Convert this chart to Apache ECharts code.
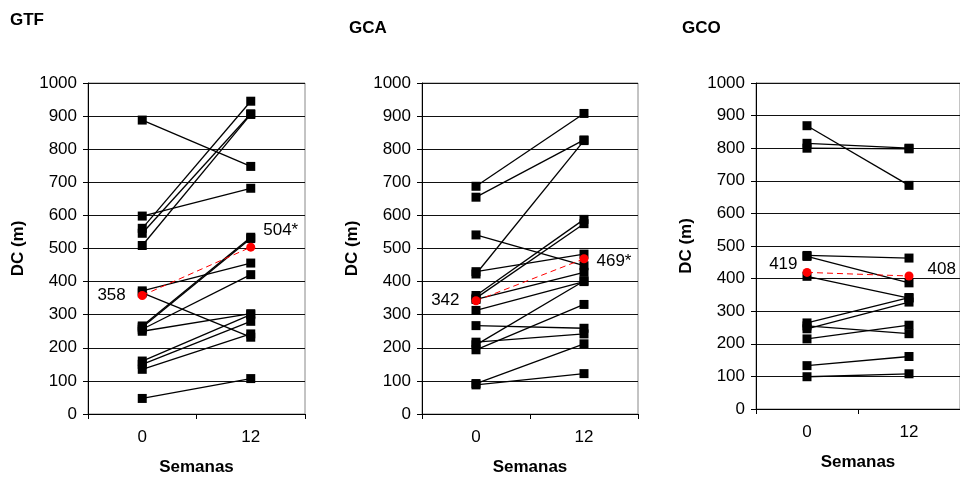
<!DOCTYPE html>
<html>
<head>
<meta charset="utf-8">
<script src="https://cdn.jsdelivr.net/npm/echarts@6/dist/echarts.min.js"></script>
<style>html,body{margin:0;padding:0;background:#fff;}#c{width:960px;height:481px;}</style>
</head>
<body>
<div id="c"></div>
<script>
const categories = ['0', '12'];
const yTicks = [0, 1000, 100];

const panelTitles = ['GTF', 'GCA', 'GCO'];
const yAxisName = 'DC (m)';
const xAxisName = 'Semanas';

// GTF subjects (week 0, week 12)
const gtfWeek0  = [888, 598, 561, 546, 509, 372, 366, 266, 262, 256, 250, 160, 150, 135, 47];
const gtfWeek12 = [748, 682, 945, 907, 905, 456, 232, 534, 530, 421, 303, 300, 280, 242, 107];
const gtfMean = [358, 504];
const gtfMeanLabels = ['358', '504*'];

// GCA subjects
const gcaWeek0  = [688, 655, 541, 430, 423, 358, 350, 346, 313, 267, 217, 209, 194, 92, 88];
const gcaWeek12 = [908, 828, 448, 483, 826, 588, 575, 428, 400, 259, 242, 402, 331, 212, 122];
const gcaMean = [342, 469];
const gcaMeanLabels = ['342', '469*'];

// GCO subjects
const gcoWeek0  = [869, 815, 800, 471, 468, 407, 264, 246, 255, 215, 133, 99];
const gcoWeek12 = [686, 800, 798, 463, 387, 340, 342, 328, 231, 257, 161, 108];
const gcoMean = [419, 408];
const gcoMeanLabels = ['419', '408'];

const FONT = "'Liberation Sans', Arial, sans-serif";

const panels = [
  {w0: gtfWeek0, w12: gtfWeek12, mean: gtfMean, ml: gtfMeanLabels,
   grid: {left: 88, right: 655, top: 83, bottom: 65},
   title: {left: 10, top: 12},
   lab0: {distance: 12, offset: [0, 0]}, lab12: {distance: 8, offset: [0, -17]}},
  {w0: gcaWeek0, w12: gcaWeek12, mean: gcaMean, ml: gcaMeanLabels,
   grid: {left: 422, right: 322, top: 83, bottom: 65},
   title: {left: 349, top: 20},
   lab0: {distance: 12, offset: [0, 0]}, lab12: {distance: 8, offset: [0, 3]}},
  {w0: gcoWeek0, w12: gcoWeek12, mean: gcoMean, ml: gcoMeanLabels,
   grid: {left: 756, right: -11, top: 83, bottom: 72},
   title: {left: 682, top: 20},
   lab0: {distance: 5, offset: [0, -8]}, lab12: {distance: 14, offset: [0, -7]}}
];

const grids = [], xAxes = [], yAxes = [], series = [], titles = [];
panels.forEach((p, k) => {
  grids.push(Object.assign({show: true, borderColor: '#888', borderWidth: 1, containLabel: false}, p.grid));
  titles.push({text: panelTitles[k], left: p.title.left, top: p.title.top, padding: 0,
    textStyle: {fontFamily: FONT, fontSize: 17, fontWeight: 'bold', color: '#000'}});
  xAxes.push({type: 'category', gridIndex: k, data: categories, boundaryGap: true,
    axisLine: {show: true, lineStyle: {color: '#000', width: 1}},
    axisTick: {show: true, length: 5, lineStyle: {color: '#000'}},
    axisLabel: {fontFamily: FONT, fontSize: 17, color: '#000', margin: 15},
    splitLine: {show: false},
    name: xAxisName, nameLocation: 'middle', nameGap: 45,
    nameTextStyle: {fontFamily: FONT, fontSize: 17, fontWeight: 'bold', color: '#000'}});
  yAxes.push({type: 'value', gridIndex: k, min: yTicks[0], max: yTicks[1], interval: yTicks[2],
    axisLine: {show: true, lineStyle: {color: '#000', width: 1}},
    axisTick: {show: true, length: 5, lineStyle: {color: '#000'}},
    axisLabel: {fontFamily: FONT, fontSize: 17, color: '#000', margin: 11, formatter: v => String(v)},
    splitLine: {show: true, lineStyle: {color: '#111', width: 1}},
    name: yAxisName, nameLocation: 'middle', nameGap: 61,
    nameTextStyle: {fontFamily: FONT, fontSize: 17, fontWeight: 'bold', color: '#000'}});
  for (let i = 0; i < p.w0.length; i++) {
    series.push({type: 'line', xAxisIndex: k, yAxisIndex: k, data: [p.w0[i], p.w12[i]],
      symbol: 'rect', symbolSize: 9, showAllSymbol: true, silent: true,
      itemStyle: {color: '#000'}, lineStyle: {color: '#000', width: 1.3}, z: 2});
  }
  series.push({type: 'line', xAxisIndex: k, yAxisIndex: k, z: 5, silent: true,
    data: [
      {value: p.mean[0], label: {show: true, position: 'left', distance: p.lab0.distance, offset: p.lab0.offset, formatter: p.ml[0]}},
      {value: p.mean[1], label: {show: true, position: 'right', distance: p.lab12.distance, offset: p.lab12.offset, formatter: p.ml[1]}}
    ],
    symbol: 'circle', symbolSize: 9,
    itemStyle: {color: '#ff0000'},
    lineStyle: {color: '#ff0000', width: 1, type: [6, 4]},
    label: {fontFamily: FONT, fontSize: 17, color: '#000'}});
});

const chart = echarts.init(document.getElementById('c'), null, {renderer: 'canvas'});
chart.setOption({
  animation: false,
  backgroundColor: '#fff',
  title: titles,
  grid: grids,
  xAxis: xAxes,
  yAxis: yAxes,
  series: series
});
</script>
</body>
</html>
